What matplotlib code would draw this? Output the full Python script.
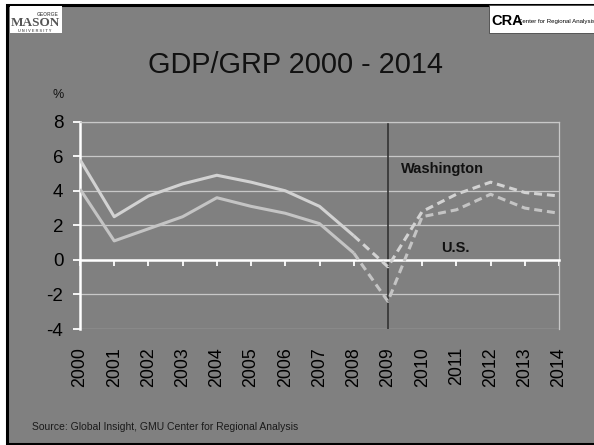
import matplotlib
matplotlib.use("Agg")
import matplotlib.pyplot as plt
from matplotlib.patches import Rectangle

plt.rcParams['font.family'] = ['Liberation Sans', 'DejaVu Sans']

years = list(range(2000, 2015))
year_labels = [str(y) for y in years]
washington = [5.8, 2.5, 3.7, 4.4, 4.9, 4.5, 4.0, 3.1, 1.4, -0.4, 2.8, 3.8, 4.5, 3.9, 3.7]
us = [4.1, 1.1, 1.8, 2.5, 3.6, 3.1, 2.7, 2.1, 0.4, -2.4, 2.5, 2.9, 3.8, 3.0, 2.7]
forecast_start = 2008
y_ticks = [-4, -2, 0, 2, 4, 6, 8]

W, H = 594, 445
BG = '#808080'
fig = plt.figure(figsize=(W / 100, H / 100), dpi=100, facecolor='white')


def fx(px):
    return px / W


def fy(py):
    return (H - py) / H


# slide background with black frame (left, top, bottom)
fig.patches.append(Rectangle((fx(7), fy(443.5)), fx(600) - fx(7), fy(4.5) - fy(443.5),
                             transform=fig.transFigure, facecolor=BG,
                             edgecolor='black', linewidth=2.2, zorder=-5))

ax = fig.add_axes([fx(80), fy(329), fx(559) - fx(80), fy(121.7) - fy(329)])
ax.set_zorder(2)
ax.set_facecolor(BG)
ax.set_xlim(years[0], years[-1])
ax.set_ylim(y_ticks[0], y_ticks[-1])

ax.set_yticks(y_ticks)
ax.set_yticklabels([str(v) for v in y_ticks])
ax.grid(axis='y', color='#c8c8c8', linewidth=0.9)
ax.grid(axis='x', visible=False)
ax.set_axisbelow(True)

for s in ['top', 'right']:
    ax.spines[s].set_color('#c8c8c8')
    ax.spines[s].set_linewidth(0.9)
ax.spines['left'].set_color('white')
ax.spines['left'].set_linewidth(1.8)
ax.spines['bottom'].set_position(('data', 0))
ax.spines['bottom'].set_color('white')
ax.spines['bottom'].set_linewidth(1.8)

ax.set_xticks(years)
ax.tick_params(axis='x', direction='out', length=4, width=1.3, color='white',
               labelbottom=False)
ax.tick_params(axis='y', direction='out', length=5, width=1.3, color='white',
               labelsize=13.5, labelcolor='black', pad=7)

sec = ax.secondary_xaxis(0)
sec.set_xticks(years)
sec.set_xticklabels(year_labels, rotation=90)
sec.tick_params(length=0, pad=13, labelsize=12.8, labelcolor='black')
sec.spines['bottom'].set_visible(False)

ax.axvline(2009, color='#333333', linewidth=1.2, zorder=2)

i0 = years.index(forecast_start)
w_col = '#d2d2d2'
u_col = '#c4c4c4'
ax.plot(years[:i0 + 1], washington[:i0 + 1], color=w_col, lw=2.2, zorder=3,
        solid_capstyle='butt')
ax.plot(years[i0:], washington[i0:], color=w_col, lw=2.2, zorder=3,
        linestyle=(0, (2.6, 1.6)))
ax.plot(years[:i0 + 1], us[:i0 + 1], color=u_col, lw=2.2, zorder=3,
        solid_capstyle='butt')
ax.plot(years[i0:], us[i0:], color=u_col, lw=2.2, zorder=3,
        linestyle=(0, (2.6, 1.6)))

ax.text(2010.6, 5.05, 'Washington', fontsize=10.5, fontweight='bold',
        ha='center', va='baseline', color='#111111')
ax.text(2010.96, 0.48, 'U.S.', fontsize=10.5, fontweight='bold',
        ha='center', va='baseline', color='#111111')

fig.text(fx(58), fy(95), '%', fontsize=9, ha='center', va='center', color='#111111')
fig.text(fx(296), fy(73), 'GDP/GRP 2000 - 2014', fontsize=20.8, ha='center',
         va='baseline', color='#111111')
fig.text(fx(31.7), fy(426.7), 'Source: Global Insight, GMU Center for Regional Analysis',
         fontsize=7.5, ha='left', va='center', color='#1a1a1a')

# GMU logo box
fig.patches.append(Rectangle((fx(10), fy(33)), fx(62) - fx(10), fy(6) - fy(33),
                             transform=fig.transFigure, facecolor='white',
                             edgecolor='none', zorder=1))
fig.text(fx(35), fy(26), 'MASON', fontsize=9.5, fontweight='bold', family='Liberation Serif',
         ha='center', va='baseline', color='#555555', zorder=2)
fig.text(fx(48), fy(15.5), 'GEORGE', fontsize=3.5, fontweight='bold',
         ha='center', va='baseline', color='#666666', zorder=2)
fig.text(fx(35), fy(31.5), 'U N I V E R S I T Y', fontsize=2.8, fontweight='bold',
         ha='center', va='baseline', color='#666666', zorder=2)

# CRA logo box
fig.patches.append(Rectangle((fx(489), fy(33)), fx(600) - fx(489), fy(5) - fy(33),
                             transform=fig.transFigure, facecolor='white',
                             edgecolor='#444444', linewidth=0.6, zorder=1))
fig.text(fx(491), fy(25), 'CRA', fontsize=10.5, fontweight='bold',
         ha='left', va='baseline', color='black', zorder=2)
fig.text(fx(518), fy(23), 'Center for Regional Analysis', fontsize=4.4,
         ha='left', va='baseline', color='black', zorder=2)

fig.savefig('out.png', dpi=100, facecolor=fig.get_facecolor())
